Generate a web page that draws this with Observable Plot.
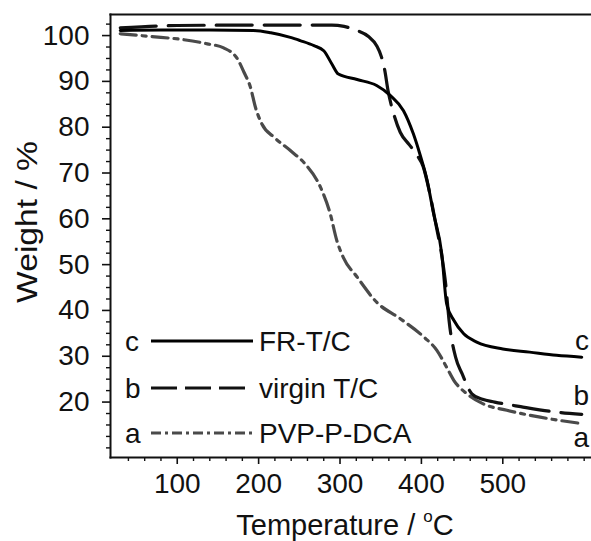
<!DOCTYPE html>
<html><head><meta charset="utf-8">
<script src="https://cdn.jsdelivr.net/npm/d3@7"></script>
<script src="https://cdn.jsdelivr.net/npm/@observablehq/plot@0.6"></script>
<style>
body{margin:0;background:#fff}
#chart{position:relative;width:591px;height:541px;overflow:hidden}
</style>
</head><body><div id="chart"></div>
<script>
// ---- data ----
const seriesKeys = ["c", "b", "a"];
const seriesNames = ["FR-T/C", "virgin T/C", "PVP-P-DCA"];

const tempC   = [30, 80, 140, 194, 215, 239, 251, 268, 280, 290, 298, 321, 345, 362, 378, 390, 398, 407, 415, 425, 431, 440, 452, 468, 500, 533, 566, 597];
const weightC = [101.1, 101.2, 101.2, 101.1, 100.6, 99.6, 98.9, 97.8, 96.7, 93.8, 91.6, 90.4, 89.1, 86.9, 83.6, 78.6, 74.2, 68.4, 61.1, 52.4, 41.5, 37.8, 34.9, 33.1, 31.6, 30.9, 30.2, 29.8];

const tempB   = [30, 100, 200, 290, 305, 321, 335, 345, 351, 355, 359, 366, 374, 385, 395, 402, 410, 418, 425, 430, 434, 442, 450, 462, 475, 490, 522, 566, 597];
const weightB = [101.7, 102.2, 102.3, 102.3, 102.0, 101.1, 99.8, 97.8, 95.3, 92.4, 88.0, 82.9, 78.9, 76.2, 73.8, 71.5, 65.8, 58.6, 52.0, 45.5, 37.8, 29.8, 26.2, 21.8, 20.6, 20.0, 19.0, 17.8, 17.3];

const tempA   = [30, 67, 108, 137, 157, 174, 182, 190, 196, 204, 219, 239, 257, 276, 288, 296, 304, 321, 345, 374, 403, 419, 431, 440, 456, 476, 505, 546, 597];
const weightA = [100.4, 99.8, 99.1, 98.2, 97.3, 94.9, 92.0, 88.7, 84.4, 80.7, 77.8, 74.9, 72.0, 66.9, 61.1, 55.3, 51.6, 47.3, 41.8, 38.2, 34.2, 31.3, 27.6, 24.7, 21.8, 19.6, 18.2, 16.7, 15.3];

const xTicks = [100, 200, 300, 400, 500];
const yTicks = [20, 30, 40, 50, 60, 70, 80, 90, 100];
const xDomain = [18, 609];
const yDomain = [7.9, 104.6];

// ---- build ----
const rows = (ts, ws, key) => ts.map((t, i) => ({t, w: ws[i], key}));
const dataC = rows(tempC, weightC, "c");
const dataB = rows(tempB, weightB, "b");
const dataA = rows(tempA, weightA, "a");

const xMinor = d3.range(40, 601, 20).filter(v => !xTicks.includes(v));
const yMinor = d3.range(10, 103, 2.5).filter(v => !yTicks.includes(v));

const styles = {
  c: {stroke: "#000", strokeWidth: 3, dash: null, legendDash: null},
  b: {stroke: "#111", strokeWidth: 3.2, dash: "36,12", legendDash: "26,8"},
  a: {stroke: "#4a4a4a", strokeWidth: 3.2, dash: "16,6,4,6", legendDash: "10,4,3,4"}
};

const FONT = "'Liberation Sans', Arial, Helvetica, sans-serif";

const chart = Plot.plot({
  width: 591, height: 541,
  marginLeft: 110, marginRight: 0, marginTop: 14, marginBottom: 84,
  style: {fontFamily: FONT, fontSize: "28px", color: "#111", background: "#fff"},
  x: {domain: xDomain, axis: null},
  y: {domain: yDomain, axis: null},
  marks: [
    Plot.axisX(xTicks, {tickSize: 7, tickPadding: 9, strokeWidth: 1.6, label: null, fontSize: 28}),
    Plot.axisX(xMinor, {tickSize: 4, strokeWidth: 1.4, tickFormat: () => "", label: null}),
    Plot.axisY(yTicks, {tickSize: 8, tickPadding: 13, strokeWidth: 1.6, label: null, fontSize: 28}),
    Plot.axisY(yMinor, {tickSize: 4, strokeWidth: 1.4, tickFormat: () => "", label: null}),
    Plot.line(dataA, {x: "t", y: "w", stroke: styles.a.stroke, strokeWidth: styles.a.strokeWidth, strokeDasharray: styles.a.dash, curve: "monotone-x"}),
    Plot.line(dataB, {x: "t", y: "w", stroke: styles.b.stroke, strokeWidth: styles.b.strokeWidth, strokeDasharray: styles.b.dash, curve: "monotone-x"}),
    Plot.line(dataC, {x: "t", y: "w", stroke: styles.c.stroke, strokeWidth: styles.c.strokeWidth, curve: "monotone-x"}),
    Plot.frame({anchor: "left", strokeWidth: 2}),
    Plot.frame({anchor: "bottom", strokeWidth: 2}),
    Plot.frame({anchor: "top", strokeWidth: 2.2})
  ]
});

document.getElementById("chart").appendChild(chart);

// ---- overlay: legend, curve labels, axis titles ----
const svg = d3.select(chart);
const g = svg.append("g").attr("font-family", FONT).attr("fill", "#111").attr("text-anchor", "start");

const legendY = [341, 388, 433];
seriesKeys.forEach((k, i) => {
  const y = legendY[i];
  g.append("text").attr("x", 125).attr("y", y).attr("dy", "0.35em").attr("text-anchor", "start").attr("font-size", 28).text(k);
  g.append("line").attr("x1", 151).attr("x2", 253).attr("y1", y).attr("y2", y)
    .attr("stroke", styles[k].stroke).attr("stroke-width", 3)
    .attr("stroke-dasharray", styles[k].legendDash);
  g.append("text").attr("x", 259).attr("y", y).attr("dy", "0.35em").attr("text-anchor", "start").attr("font-size", 28).text(seriesNames[i]);
});

const endLabelY = [340, 395, 437];
seriesKeys.forEach((k, i) => {
  g.append("text").attr("x", 589).attr("y", endLabelY[i]).attr("dy", "0.35em")
    .attr("text-anchor", "end").attr("font-size", 28).text(k);
});

// y title
g.append("text")
  .attr("transform", "translate(37,222) rotate(-90) scale(1.12,1)")
  .attr("text-anchor", "middle").attr("font-size", 30)
  .text("Weight / %");

// x title
const xt = g.append("text").attr("x", 345).attr("y", 535).attr("text-anchor", "middle").attr("font-size", 29);
xt.append("tspan").text("Temperature / ");
xt.append("tspan").attr("font-size", 17).attr("dy", "-0.75em").text("o");
xt.append("tspan").attr("dy", "0.45em").text("C");
</script>
</body></html>
